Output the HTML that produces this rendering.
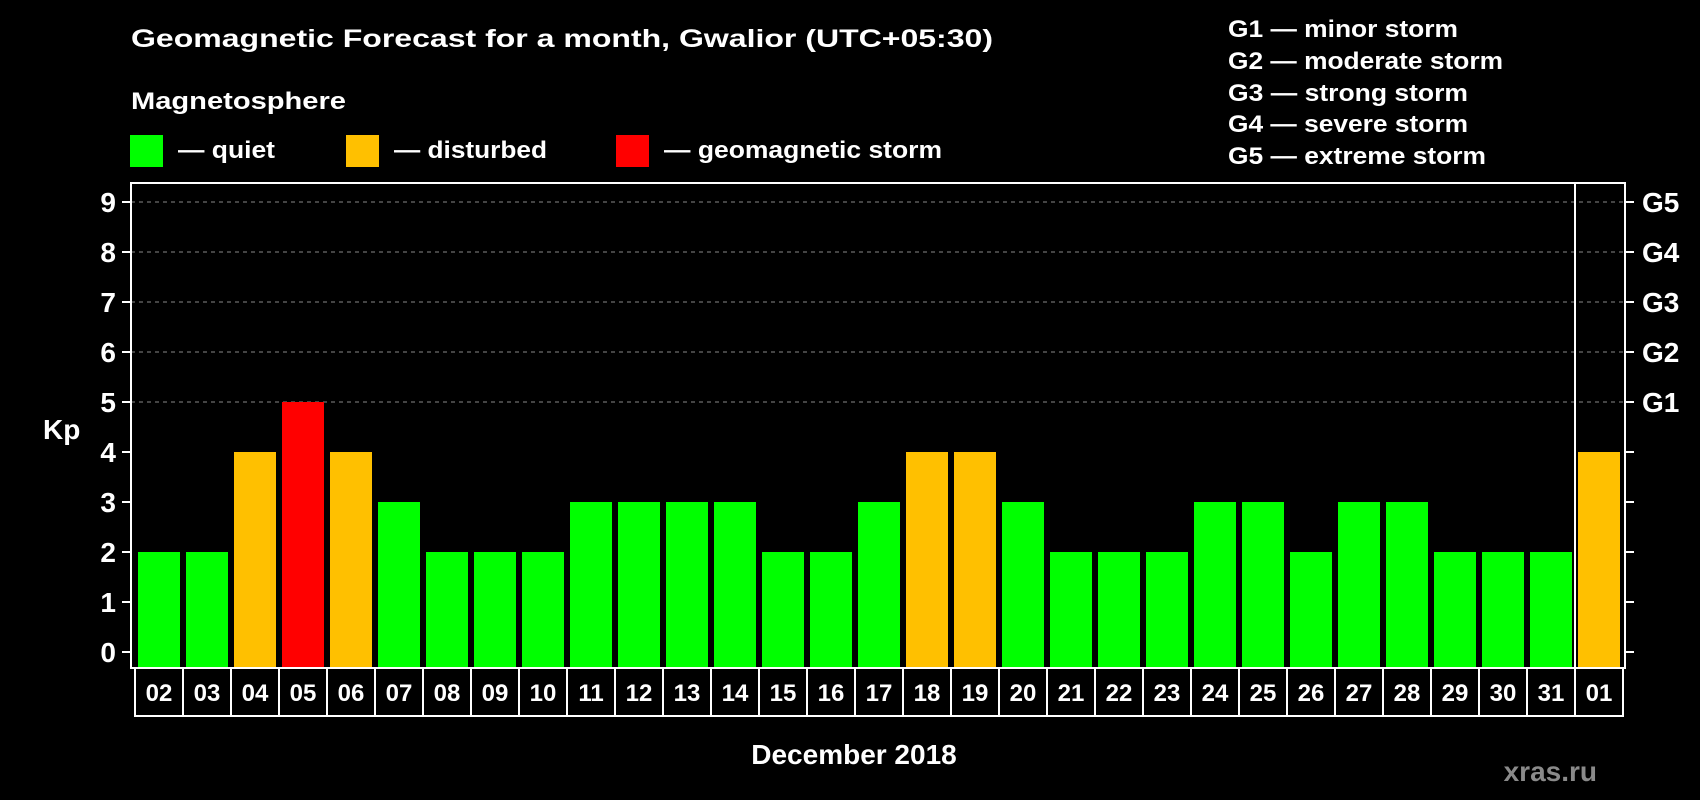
<!DOCTYPE html>
<html><head><meta charset="utf-8"><style>
html,body{margin:0;padding:0;background:#000;}
svg{display:block;font-family:"Liberation Sans",Arial,sans-serif;font-weight:bold;}
</style></head><body>
<svg id="chart" width="1700" height="800" viewBox="0 0 1700 800">
<rect width="1700" height="800" fill="#000"/>
<text x="131" y="47" fill="#fff" font-size="25" textLength="862" lengthAdjust="spacingAndGlyphs">Geomagnetic Forecast for a month, Gwalior (UTC+05:30)</text>
<text x="131" y="109" fill="#fff" font-size="24" textLength="215" lengthAdjust="spacingAndGlyphs">Magnetosphere</text>
<g><rect x="130" y="135" width="33" height="32" fill="#00ff00"/><text x="178" y="158" fill="#fff" font-size="24" textLength="97" lengthAdjust="spacingAndGlyphs">— quiet</text></g>
<g><rect x="346" y="135" width="33" height="32" fill="#ffc000"/><text x="394" y="158" fill="#fff" font-size="24" textLength="153" lengthAdjust="spacingAndGlyphs">— disturbed</text></g>
<g><rect x="616" y="135" width="33" height="32" fill="#ff0000"/><text x="664" y="158" fill="#fff" font-size="24" textLength="278" lengthAdjust="spacingAndGlyphs">— geomagnetic storm</text></g>
<g fill="#fff" font-size="24">
<text x="1228" y="37" textLength="230" lengthAdjust="spacingAndGlyphs">G1 — minor storm</text>
<text x="1228" y="69" textLength="275" lengthAdjust="spacingAndGlyphs">G2 — moderate storm</text>
<text x="1228" y="101" textLength="240" lengthAdjust="spacingAndGlyphs">G3 — strong storm</text>
<text x="1228" y="132" textLength="240" lengthAdjust="spacingAndGlyphs">G4 — severe storm</text>
<text x="1228" y="164" textLength="258" lengthAdjust="spacingAndGlyphs">G5 — extreme storm</text>
</g>
<text x="43" y="439" fill="#fff" font-size="28">Kp</text>
<text x="854" y="764" fill="#fff" font-size="28" text-anchor="middle">December 2018</text>
<text x="1597" y="781" fill="#8a8a8a" font-size="28" text-anchor="end">xras.ru</text>
<g id="grid"></g><g id="bars"></g><g id="axes"></g>
</svg>
<script>
const days = ["02","03","04","05","06","07","08","09","10","11","12","13","14","15","16","17","18","19","20","21","22","23","24","25","26","27","28","29","30","31","01"];
const kpValues = [2,2,4,5,4,3,2,2,2,3,3,3,3,2,2,3,4,4,3,2,2,2,3,3,2,3,3,2,2,2,4];
const yTicks = [0,1,2,3,4,5,6,7,8,9];
const gLabels = ["G1","G2","G3","G4","G5"];
const gLevels = [5,6,7,8,9];
const NS = "http://www.w3.org/2000/svg";
const L = 131, R = 1625, T = 183, B = 668, boxL = 135, pitch = 48, boxB = 716;
function yScale(v){ return 652 - v * 50; }
function xLeft(i){ return boxL + i * pitch; }
function mk(tag, attrs, parent){ const e = document.createElementNS(NS, tag); for (const k in attrs) e.setAttribute(k, attrs[k]); parent.appendChild(e); return e; }
const grid = document.getElementById('grid'), bars = document.getElementById('bars'), axes = document.getElementById('axes');
gLevels.forEach(function(v){
  const ln = mk('line', {x1:L, x2:R, y1:yScale(v), y2:yScale(v), stroke:'#888', 'stroke-width':1, 'stroke-dasharray':'4,4'}, grid);
  
  
});
kpValues.forEach(function(v, i){
  const c = v >= 5 ? '#ff0000' : (v >= 4 ? '#ffc000' : '#00ff00');
  const r = mk('rect', {x:xLeft(i)+3, y:yScale(v), width:42, height:B - yScale(v), fill:c}, bars);
  
  
  const bx = mk('rect', {x:xLeft(i), y:B, width:pitch, height:boxB - B, fill:'none', stroke:'#fff', 'stroke-width':2}, axes);
  
  
  const t = mk('text', {x:xLeft(i) + pitch/2, y:701, fill:'#fff', 'font-size':24, 'text-anchor':'middle'}, axes);
  t.textContent = days[i];
  
  
});
const frame = mk('rect', {x:L, y:T, width:R - L, height:B - T, fill:'none', stroke:'#fff', 'stroke-width':2}, axes);


const sep = mk('line', {x1:xLeft(days.length - 1), x2:xLeft(days.length - 1), y1:T, y2:B, stroke:'#fff', 'stroke-width':2}, axes);


yTicks.forEach(function(v){
  const y = yScale(v);
  const a = mk('line', {x1:122, x2:L, y1:y, y2:y, stroke:'#fff', 'stroke-width':2}, axes);
  
  
  const b = mk('line', {x1:R, x2:1634, y1:y, y2:y, stroke:'#fff', 'stroke-width':2}, axes);
  
  
  const t = mk('text', {x:116, y:y + 10, fill:'#fff', 'font-size':28, 'text-anchor':'end'}, axes);
  t.textContent = v;
  
  
});
gLabels.forEach(function(g, i){
  const t = mk('text', {x:1642, y:yScale(gLevels[i]) + 10, fill:'#fff', 'font-size':28}, axes);
  t.textContent = g;
  
  
});
</script>
</body></html>
